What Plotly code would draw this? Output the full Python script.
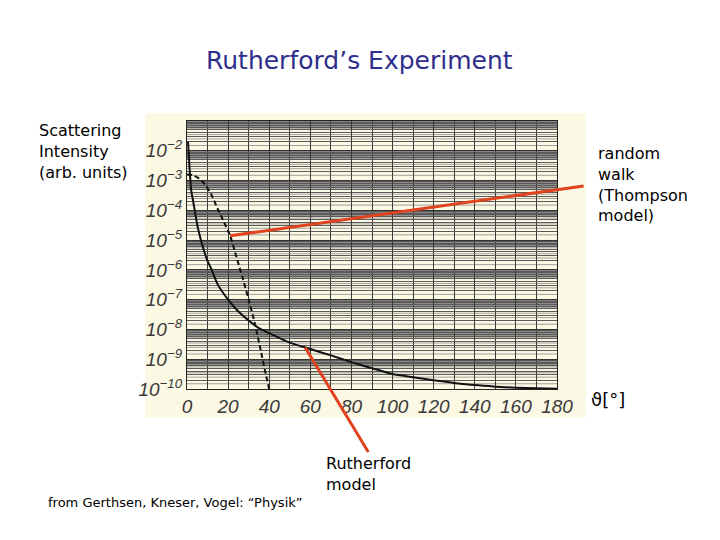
import numpy as np
import plotly.graph_objects as go

W, H = 720, 540

# ---- data (scattering angle in degrees, intensity arb. units)
rutherford_angle = [0.5, 1, 2, 3, 4, 5, 6, 8, 10, 12, 15, 20, 25, 30, 35, 40, 50, 60,
                    70, 80, 90, 100, 110, 120, 130, 140, 150, 160, 170, 180]
rutherford_intensity = [2.0e-2, 5.0e-3, 5.0e-4, 2.0e-4, 8.0e-5, 3.2e-5, 1.6e-5, 5.0e-6,
                        2.0e-6, 1.0e-6, 3.2e-7, 1.0e-7, 4.0e-8, 2.0e-8, 1.1e-8, 7.5e-9,
                        3.6e-9, 2.2e-9, 1.35e-9, 8.0e-10, 5.0e-10, 3.2e-10, 2.5e-10,
                        1.95e-10, 1.6e-10, 1.35e-10, 1.2e-10, 1.1e-10, 1.05e-10, 1.02e-10]

randomwalk_angle = [0, 3, 6, 9, 12, 15, 18, 21, 24, 27, 30, 33, 36, 38, 40]
randomwalk_intensity = [1.6e-3, 1.5e-3, 1.15e-3, 7.0e-4, 3.2e-4, 1.1e-4, 4.0e-5, 1.4e-5,
                        2.8e-6, 5.6e-7, 1.0e-7, 1.6e-8, 1.8e-9, 4.0e-10, 1.0e-10]

x_ticks = [0, 20, 40, 60, 80, 100, 120, 140, 160, 180]
y_exponents = [-2, -3, -4, -5, -6, -7, -8, -9, -10]
y_tickvals = [10.0 ** e for e in y_exponents]
y_ticktext = ["10<sup>\u2212%d</sup>" % (-e) for e in y_exponents]

title_text = "Rutherford\u2019s Experiment"
ylabel_text = "Scattering<br>Intensity<br>(arb. units)"
thompson_text = "random<br>walk<br>(Thompson<br>model)"
rutherford_text = "Rutherford<br>model"
xlabel_text = "\u03d1[\u00b0]"
source_text = "from Gerthsen, Kneser, Vogel: \u201cPhysik\u201d"

# ---- layout geometry (pixels)
PX0, PX1 = 187, 557      # plot left/right
PY0, PY1 = 121, 389      # plot top/bottom


def px(x):
    return x / W


def py(y):
    return 1 - y / H


fig = go.Figure()

fig.add_trace(go.Scatter(x=rutherford_angle, y=rutherford_intensity, mode="lines",
                         line=dict(color="#111111", width=2, shape="spline", smoothing=0.6),
                         showlegend=False, hoverinfo="skip"))
fig.add_trace(go.Scatter(x=randomwalk_angle, y=randomwalk_intensity, mode="lines",
                         line=dict(color="#111111", width=2, dash="5px,3px",
                                   shape="spline", smoothing=0.6),
                         showlegend=False, hoverinfo="skip"))

shapes = []
# cream scanned-paper background
shapes.append(dict(type="rect", xref="paper", yref="paper", layer="below",
                   x0=px(145), x1=px(586), y0=py(418), y1=py(113),
                   fillcolor="#FBF8E4", line=dict(width=0)))
# extra fine log-paper lines (grid)
for e in range(-10, -1):
    for m in [1.5, 2.5, 3.5, 5.5, 6.25, 6.5, 6.75, 7.25, 7.5, 7.75,
              8.25, 8.5, 8.75, 9.25, 9.5, 9.75]:
        shapes.append(dict(type="line", xref="paper", yref="y", layer="below",
                           x0=px(PX0), x1=px(PX1), y0=m * 10.0 ** e, y1=m * 10.0 ** e,
                           line=dict(color="#7a7a7a", width=0.7)))

tick_font = dict(family="Liberation Sans", size=19, color="#3a3a3a", style="italic")
fig.update_layout(
    width=W, height=H,
    margin=dict(l=0, r=0, t=0, b=0),
    paper_bgcolor="white",
    plot_bgcolor="rgba(0,0,0,0)",
    shapes=shapes,
    xaxis=dict(domain=[px(PX0), px(PX1)], range=[0, 180], automargin=False,
               tickvals=x_ticks, showgrid=True, gridcolor="#3a3a3a", gridwidth=1,
               minor=dict(dtick=10, tick0=0, showgrid=True, gridcolor="#3a3a3a", gridwidth=1),
               showline=True, linecolor="#222222", linewidth=1.2, mirror=True,
               zeroline=False, ticks="", ticklabelstandoff=0, tickfont=tick_font),
    yaxis=dict(domain=[py(PY1), py(PY0)], type="log", range=[-10, -1], automargin=False,
               tickvals=y_tickvals, ticktext=y_ticktext,
               showgrid=True, gridcolor="#333333", gridwidth=1.4,
               minor=dict(dtick="D1", showgrid=True, gridcolor="#5a5a5a", gridwidth=0.8),
               showline=True, linecolor="#222222", linewidth=1.2, mirror=True,
               zeroline=False, ticks="", ticklabelstandoff=0, tickfont=tick_font),
)

text_font = dict(family="DejaVu Sans", color="black")
annotations = [
    dict(text=title_text, x=px(359), y=py(60), xanchor="center", yanchor="middle",
         font=dict(family="DejaVu Sans", size=25, color="#2E2E8C")),
    dict(text=ylabel_text, x=px(37), y=py(119), xanchor="left", yanchor="top",
         align="left", font=dict(text_font, size=16)),
    dict(text=thompson_text, x=px(596), y=py(142), xanchor="left", yanchor="top",
         align="left", font=dict(text_font, size=16)),
    dict(text=rutherford_text, x=px(324), y=py(452), xanchor="left", yanchor="top",
         align="left", font=dict(text_font, size=16)),
    dict(text=xlabel_text, x=px(589), y=py(399), xanchor="left", yanchor="middle",
         font=dict(text_font, size=18)),
    dict(text=source_text, x=px(46), y=py(502), xanchor="left", yanchor="middle",
         font=dict(text_font, size=13)),
]
for a in annotations:
    a.update(xref="paper", yref="paper", showarrow=False)

# red pointer lines from the curves to their labels
rw_x = 21
rw_y = randomwalk_intensity[randomwalk_angle.index(rw_x)]
ru_x = 57.5
ru_logy = np.interp(ru_x, rutherford_angle, np.log10(rutherford_intensity))
for (hx, hy, axp, ayp) in [(rw_x, np.log10(rw_y), 355, -50), (ru_x, ru_logy, 64, 106)]:
    annotations.append(dict(x=hx, y=hy, xref="x", yref="y", text="", showarrow=True,
                            ax=axp, ay=ayp, arrowhead=0, arrowwidth=3,
                            arrowcolor="#E0431E", standoff=0, startstandoff=0))

fig.update_layout(annotations=annotations)

fig.write_html("out.html")
